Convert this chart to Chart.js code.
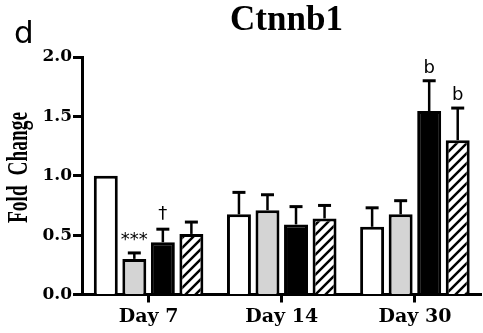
<!DOCTYPE html>
<html>
<head>
<meta charset="utf-8">
<script src="https://cdn.jsdelivr.net/npm/chart.js@4.4.1/dist/chart.umd.min.js"></script>
<style>
  html, body { margin: 0; padding: 0; background: #fff; }
  #wrap { width: 483px; height: 333px; }
</style>
</head>
<body>
<div id="wrap"><canvas id="c" width="483" height="333"></canvas></div>
<script>
// Ctnnb1 expression, fold change vs. control, mean + SEM
const categories = ['Day 7', 'Day 14', 'Day 30'];
const yTickValues = [0, 0.5, 1.0, 1.5, 2.0];

const group1Values = [1.00, 0.675, 0.57];
const group1Sem    = [0.00, 0.185, 0.16];
const group2Values = [0.30, 0.71, 0.675];
const group2Sem    = [0.05, 0.13, 0.115];
const group3Values = [0.44, 0.59, 1.545];
const group3Sem    = [0.11, 0.15, 0.255];
const group4Values = [0.51, 0.64, 1.30];
const group4Sem    = [0.10, 0.11, 0.27];

// significance marks above each bar
const group1Marks = ['', '', ''];
const group2Marks = ['***', '', ''];
const group3Marks = ['\u2020', '', 'b'];
const group4Marks = ['', '', 'b'];

const chartTitle = 'Ctnnb1';
const panelLetter = 'd';
const yAxisTitle = 'Fold  Change';

// diagonal hatch fill
function makeHatch() {
  const s = 10;
  const p = document.createElement('canvas');
  p.width = s; p.height = s;
  const g = p.getContext('2d');
  g.fillStyle = '#fff';
  g.fillRect(0, 0, s, s);
  g.strokeStyle = '#000';
  g.lineWidth = 2.5;
  g.beginPath();
  g.moveTo(0, s); g.lineTo(s, 0);
  g.moveTo(-s / 2, s / 2); g.lineTo(s / 2, -s / 2);
  g.moveTo(s / 2, s * 1.5); g.lineTo(s * 1.5, s / 2);
  g.stroke();
  return document.getElementById('c').getContext('2d').createPattern(p, 'repeat');
}

const errorBars = {
  id: 'errorBars',
  afterDatasetsDraw(chart) {
    const { ctx } = chart;
    const y = chart.scales.y;
    ctx.save();
    chart.data.datasets.forEach((ds, i) => {
      const meta = chart.getDatasetMeta(i);
      meta.data.forEach((bar, j) => {
        const err = ds.sem[j];
        const top = y.getPixelForValue(ds.data[j] + err);
        if (err > 0) {
          ctx.strokeStyle = '#000';
          ctx.lineWidth = 2.5;
          ctx.beginPath();
          ctx.moveTo(bar.x, bar.y);
          ctx.lineTo(bar.x, top);
          ctx.stroke();
          ctx.lineWidth = 3;
          ctx.beginPath();
          ctx.moveTo(bar.x - 6.5, top);
          ctx.lineTo(bar.x + 6.5, top);
          ctx.stroke();
        }
        const mark = ds.marks[j];
        if (mark) {
          ctx.fillStyle = '#000';
          ctx.font = '18px "DejaVu Sans"';
          ctx.textAlign = 'center';
          ctx.textBaseline = 'alphabetic';
          ctx.fillText(mark, bar.x, top - (mark === '\u2020' ? 10 : 8));
        }
      });
    });
    ctx.restore();
  }
};

const headings = {
  id: 'headings',
  afterDraw(chart) {
    const { ctx } = chart;
    ctx.save();
    ctx.fillStyle = '#000';
    ctx.textBaseline = 'alphabetic';

    ctx.font = 'bold 35px "Liberation Serif"';
    ctx.textAlign = 'center';
    ctx.fillText(chartTitle, 286.5, 30);

    ctx.font = '31px "DejaVu Sans"';
    ctx.textAlign = 'left';
    ctx.fillText(panelLetter, 14, 43);

    // rotated axis title, condensed to fit its span
    ctx.font = 'bold 29px "Liberation Serif"';
    const w = ctx.measureText(yAxisTitle).width;
    ctx.translate(27, 167.5);
    ctx.rotate(-Math.PI / 2);
    ctx.scale(111 / w, 1);
    ctx.textAlign = 'center';
    ctx.fillText(yAxisTitle, 0, 0);
    ctx.restore();
  }
};

const ctx = document.getElementById('c').getContext('2d');
const hatch = makeHatch();

const common = { borderColor: '#000', borderWidth: 3, categoryPercentage: 0.857, barPercentage: 0.84 };

new Chart(ctx, {
  type: 'bar',
  data: {
    labels: categories,
    datasets: [
      Object.assign({ label: 'Group 1', data: group1Values, sem: group1Sem, marks: group1Marks, backgroundColor: '#ffffff' }, common),
      Object.assign({ label: 'Group 2', data: group2Values, sem: group2Sem, marks: group2Marks, backgroundColor: '#d4d4d4' }, common),
      Object.assign({ label: 'Group 3', data: group3Values, sem: group3Sem, marks: group3Marks, backgroundColor: '#000000' }, common),
      Object.assign({ label: 'Group 4', data: group4Values, sem: group4Sem, marks: group4Marks, backgroundColor: hatch }, common)
    ]
  },
  options: {
    responsive: false,
    animation: false,
    devicePixelRatio: 1,
    layout: { padding: { top: 57, right: 1.5, left: 0, bottom: 0 } },
    plugins: {
      legend: { display: false },
      title: { display: false },
      tooltip: { enabled: false }
    },
    scales: {
      x: {
        z: 1,
        afterFit(s) { s.height = 38.5; },
        grid: { offset: false, drawOnChartArea: false, tickLength: 8, tickWidth: 3, tickColor: '#000' },
        border: { display: true, color: '#000', width: 3 },
        ticks: { color: '#000', padding: 3, font: { family: 'DejaVu Serif', weight: 'bold', size: 19 } }
      },
      y: {
        min: 0,
        max: 2,
        afterFit(s) { s.width = 82; },
        afterBuildTicks(s) { s.ticks = yTickValues.map(v => ({ value: v })); },
        grid: { drawOnChartArea: false, tickLength: 9, tickWidth: 3, tickColor: '#000' },
        border: { display: true, color: '#000', width: 3 },
        ticks: {
          color: '#000',
          padding: 1,
          font: { family: 'DejaVu Serif', weight: 'bold', size: 17 },
          callback: v => Number(v).toFixed(1)
        }
      }
    }
  },
  plugins: [errorBars, headings]
});
</script>
</body>
</html>
